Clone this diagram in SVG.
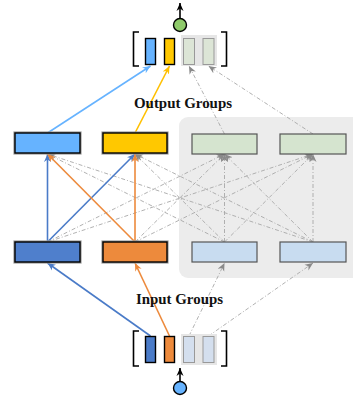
<svg xmlns="http://www.w3.org/2000/svg" width="353" height="396" viewBox="0 0 353 396">
<style>
.box{stroke:#000;stroke-width:1.4}
.halo{fill:none;stroke:#9a9a9a;stroke-width:3.2}
.gbox{stroke:#555;stroke-width:1.2}
.vec{stroke:#000;stroke-width:1.4}
.gvec{stroke:#999;stroke-width:1}
.br{fill:none;stroke:#000;stroke-width:1.6}
.g{stroke:#a8a8a8;stroke-width:0.9;stroke-dasharray:4 2 1 2;fill:none}
.c{stroke-width:1.6;fill:none}
.lbl{font-family:"Liberation Serif",serif;font-weight:bold;font-size:14.5px;fill:#111}
</style>
<defs>
<marker id="aG" markerUnits="userSpaceOnUse" markerWidth="9" markerHeight="8" refX="8" refY="4" orient="auto"><path d="M0,0.5 L8,4 L0,7.5 L2.5,4 z" fill="#8a8a8a"/></marker>
<marker id="aB" markerUnits="userSpaceOnUse" markerWidth="9" markerHeight="8" refX="8" refY="4" orient="auto"><path d="M0,0.5 L8,4 L0,7.5 L2.5,4 z" fill="#4a7bc8"/></marker>
<marker id="aL" markerUnits="userSpaceOnUse" markerWidth="9" markerHeight="8" refX="8" refY="4" orient="auto"><path d="M0,0.5 L8,4 L0,7.5 L2.5,4 z" fill="#66b3ff"/></marker>
<marker id="aY" markerUnits="userSpaceOnUse" markerWidth="9" markerHeight="8" refX="8" refY="4" orient="auto"><path d="M0,0.5 L8,4 L0,7.5 L2.5,4 z" fill="#ffc000"/></marker>
<marker id="aO" markerUnits="userSpaceOnUse" markerWidth="9" markerHeight="8" refX="8" refY="4" orient="auto"><path d="M0,0.5 L8,4 L0,7.5 L2.5,4 z" fill="#ed8a3c"/></marker>
<marker id="aK" markerUnits="userSpaceOnUse" markerWidth="9" markerHeight="8" refX="8" refY="4" orient="auto"><path d="M0,0.5 L8,4 L0,7.5 L2.5,4 z" fill="#000"/></marker>
</defs>
<rect id="panel" x="179" y="117" width="190" height="161" rx="9" fill="#ececec"/>
<g id="connectors">
<line class="g" x1="47.5" y1="242" x2="224.5" y2="154" marker-end="url(#aG)"/>
<line class="g" x1="47.5" y1="242" x2="313" y2="154" marker-end="url(#aG)"/>
<line class="g" x1="135" y1="242" x2="224.5" y2="154" marker-end="url(#aG)"/>
<line class="g" x1="135" y1="242" x2="313" y2="154" marker-end="url(#aG)"/>
<line class="g" x1="224.5" y1="242" x2="47.5" y2="154" marker-end="url(#aG)"/>
<line class="g" x1="224.5" y1="242" x2="135" y2="154" marker-end="url(#aG)"/>
<line class="g" x1="224.5" y1="242" x2="224.5" y2="154" marker-end="url(#aG)"/>
<line class="g" x1="224.5" y1="242" x2="313" y2="154" marker-end="url(#aG)"/>
<line class="g" x1="313" y1="242" x2="47.5" y2="154" marker-end="url(#aG)"/>
<line class="g" x1="313" y1="242" x2="135" y2="154" marker-end="url(#aG)"/>
<line class="g" x1="313" y1="242" x2="224.5" y2="154" marker-end="url(#aG)"/>
<line class="g" x1="313" y1="242" x2="313" y2="154" marker-end="url(#aG)"/>
<line class="g" x1="224.5" y1="134" x2="189" y2="66" marker-end="url(#aG)"/>
<line class="g" x1="313" y1="134" x2="208.5" y2="66" marker-end="url(#aG)"/>
<line class="g" x1="189" y1="336" x2="224.5" y2="263" marker-end="url(#aG)"/>
<line class="g" x1="208.5" y1="336" x2="313" y2="263" marker-end="url(#aG)"/>
<line class="c" stroke="#4a7bc8" x1="47.5" y1="242" x2="47.5" y2="154" marker-end="url(#aB)"/>
<line class="c" stroke="#4a7bc8" x1="47.5" y1="242" x2="135" y2="154" marker-end="url(#aB)"/>
<line class="c" stroke="#ed8a3c" x1="135" y1="242" x2="47.5" y2="154" marker-end="url(#aO)"/>
<line class="c" stroke="#ed8a3c" x1="135" y1="242" x2="135" y2="154" marker-end="url(#aO)"/>
<line class="c" stroke="#66b3ff" x1="47.5" y1="133" x2="150.5" y2="66" marker-end="url(#aL)"/>
<line class="c" stroke="#ffc000" x1="135" y1="133" x2="169.5" y2="66" marker-end="url(#aY)"/>
<line class="c" stroke="#4a7bc8" x1="150.5" y1="336" x2="47.5" y2="263" marker-end="url(#aB)"/>
<line class="c" stroke="#ed8a3c" x1="169.5" y1="336" x2="135" y2="263" marker-end="url(#aO)"/>
<line class="c" stroke="#000" x1="180" y1="18" x2="180" y2="3" marker-end="url(#aK)"/>
<line class="c" stroke="#000" x1="180" y1="381" x2="180" y2="368" marker-end="url(#aK)"/>
</g>
<g id="out-vector">
<rect x="181" y="35" width="36" height="31" fill="#e6e6e6"/>
<path class="br" d="M139,32 H133.5 V66 H139"/>
<path class="br" d="M221,32 H226.5 V66 H221"/>
<rect class="vec" x="145.5" y="38.5" width="10" height="26" fill="#66b3ff"/>
<rect class="vec" x="164.5" y="38.5" width="10" height="26" fill="#ffc800"/>
<rect class="gvec" x="183.5" y="38.5" width="11" height="26" fill="#dce5d6"/>
<rect class="gvec" x="203" y="38.5" width="11" height="26" fill="#dce5d6"/>
<circle cx="180" cy="25" r="6.5" fill="#8fcb6b" stroke="#000" stroke-width="1.4"/>
</g>
<g id="in-vector">
<rect x="181" y="334" width="36" height="31" fill="#e6e6e6"/>
<path class="br" d="M139,331 H133.5 V366 H139"/>
<path class="br" d="M221,331 H226.5 V366 H221"/>
<rect class="vec" x="145.5" y="336.5" width="10" height="26" fill="#4a7bc8"/>
<rect class="vec" x="164.5" y="336.5" width="10" height="26" fill="#ed8a3c"/>
<rect class="gvec" x="183.5" y="336.5" width="11" height="26" fill="#d4dfee"/>
<rect class="gvec" x="203" y="336.5" width="11" height="26" fill="#d4dfee"/>
<circle cx="180" cy="388" r="6.5" fill="#66b3ff" stroke="#000" stroke-width="1.4"/>
</g>
<g id="out-g1"><rect class="halo" x="15" y="133" width="65" height="20"/><rect class="box" x="15" y="133" width="65" height="20" fill="#66b3ff"/></g>
<g id="out-g2"><rect class="halo" x="103" y="133" width="64" height="20"/><rect class="box" x="103" y="133" width="64" height="20" fill="#ffc800"/></g>
<g id="out-g3"><rect class="gbox" x="192" y="134" width="65" height="20" fill="#d5e4cf"/></g>
<g id="out-g4"><rect class="gbox" x="280" y="134" width="66" height="20" fill="#d5e4cf"/></g>
<g id="in-g1"><rect class="halo" x="15" y="242" width="65" height="20"/><rect class="box" x="15" y="242" width="65" height="20" fill="#4f7fcc"/></g>
<g id="in-g2"><rect class="halo" x="103" y="242" width="64" height="20"/><rect class="box" x="103" y="242" width="64" height="20" fill="#ed8a3c"/></g>
<g id="in-g3"><rect class="gbox" x="192" y="242" width="65" height="20" fill="#c8dcf0"/></g>
<g id="in-g4"><rect class="gbox" x="280" y="242" width="66" height="20" fill="#c8dcf0"/></g>
<text class="lbl" x="183" y="107.5" text-anchor="middle" textLength="98" lengthAdjust="spacingAndGlyphs">Output Groups</text>
<text class="lbl" x="179.5" y="303.5" text-anchor="middle" textLength="87" lengthAdjust="spacingAndGlyphs">Input Groups</text>
</svg>
